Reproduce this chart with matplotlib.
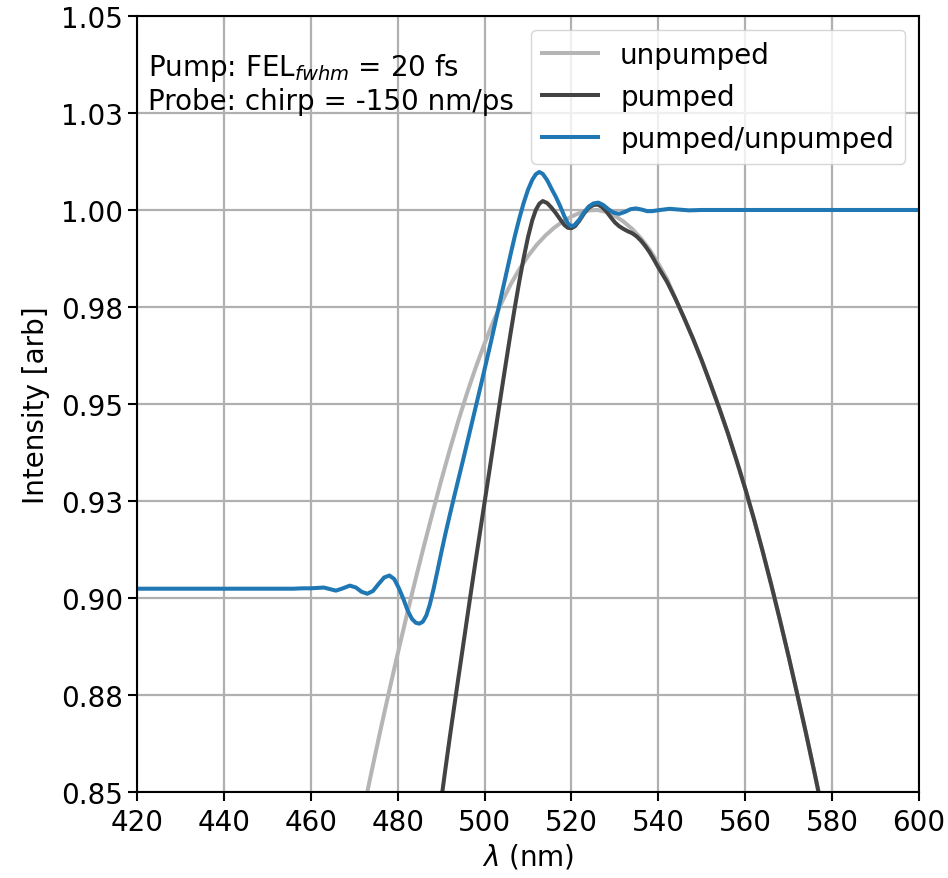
import matplotlib
matplotlib.use("Agg")
import matplotlib.pyplot as plt

# Unpumped probe spectrum
unpumped_wl = [466, 468, 470, 472, 474, 476, 478, 480, 482, 484, 486, 488, 490,
               492, 494, 496, 498, 500, 502, 504, 506, 508, 510, 512, 514, 516,
               518, 520, 522, 524, 526, 528, 530, 532, 534, 536, 538, 540, 542,
               544, 546, 548, 550, 552, 554, 556, 558, 560, 562, 564, 566, 568,
               570, 572, 574, 576, 578, 580, 582]
unpumped = [0.8107, 0.8223, 0.8336, 0.8446, 0.8553, 0.8657, 0.8758, 0.8856, 0.8951,
            0.9043, 0.9132, 0.9218, 0.9302, 0.9382, 0.9458, 0.9529, 0.9595, 0.9656,
            0.9712, 0.9763, 0.9808, 0.9847, 0.9881, 0.9910, 0.9934, 0.9954, 0.9970,
            0.9983, 0.9993, 0.9999, 1.0000, 0.9995, 0.9985, 0.9970, 0.9951, 0.9927,
            0.9898, 0.9862, 0.9822, 0.9770, 0.9720, 0.9668, 0.9612, 0.9552, 0.9490,
            0.9425, 0.9355, 0.9282, 0.9204, 0.9121, 0.9034, 0.8943, 0.8849, 0.8751,
            0.8651, 0.8547, 0.8440, 0.8331, 0.8220]

# Pumped probe spectrum
pumped_wl = [488, 489, 490, 491, 492, 493, 494, 495, 496, 497, 498, 499, 500,
             501, 502, 503, 504, 505, 506, 507, 508, 509, 510, 511, 511.8, 512.6,
             513.4, 514.4, 515.4, 516.4, 517.4, 518.4, 519.2, 520.0, 520.8, 521.8,
             522.9, 524.0, 525.1, 526.1, 527.0, 528.0, 529.0, 530.0, 531.0, 532.0,
             533.0, 534.0, 535.0, 536.0, 537.0, 538.0, 539.0, 540.0, 542, 544, 546,
             548, 550, 552, 554, 556, 558, 560, 562, 564, 566, 568, 570, 572, 574,
             576, 578, 580, 582]
pumped = [0.8306, 0.8390, 0.8477, 0.8560, 0.8641, 0.8719, 0.8796, 0.8872, 0.8949,
          0.9025, 0.9100, 0.9173, 0.9246, 0.9319, 0.9393, 0.9467, 0.9540, 0.9612,
          0.9683, 0.9751, 0.9816, 0.9876, 0.9930, 0.9974, 1.0000, 1.0016, 1.0023,
          1.0018, 1.0006, 0.9992, 0.9976, 0.9961, 0.9954, 0.9953, 0.9958, 0.9972,
          0.9991, 1.0006, 1.0013, 1.0014, 1.0008, 0.9997, 0.9982, 0.9968, 0.9958,
          0.9951, 0.9945, 0.9940, 0.9932, 0.9921, 0.9907, 0.9891, 0.9872, 0.9852,
          0.9815, 0.9770, 0.9720, 0.9668, 0.9612, 0.9552, 0.9490, 0.9425, 0.9355,
          0.9282, 0.9204, 0.9121, 0.9034, 0.8943, 0.8849, 0.8751, 0.8651, 0.8547,
          0.8440, 0.8331, 0.8220]

# Ratio pumped / unpumped
ratio_wl = [420, 450, 456, 458, 460, 461.5, 463, 464.4, 465.8, 467.4, 469.0,
            470.4, 471.7, 473.0, 474.3, 475.6, 476.9, 478.1, 479.2, 480.3, 481.3,
            482.3, 483.3, 484.2, 485.0, 485.8, 486.6, 487.4, 488.3, 489.2, 490.1,
            491, 492, 493, 494, 495, 496, 497, 498, 499, 500, 501, 502, 503, 504,
            505, 506, 507, 508, 509, 510, 511, 511.8, 512.6, 513.4, 514.4, 515.4,
            516.4, 517.4, 518.4, 519.2, 519.9, 520.7, 521.8, 522.9, 524.0, 525.1,
            526.2, 527.3, 528.5, 529.7, 531.0, 532.3, 533.6, 534.8, 536.2, 537.4,
            538.6, 540.4, 542.6, 544.8, 547.0, 550, 600]
ratio = [0.9024, 0.9024, 0.9024, 0.9025, 0.9025, 0.9026, 0.9027, 0.9023, 0.9019,
         0.9025, 0.9032, 0.9027, 0.9016, 0.9011, 0.9018, 0.9036, 0.9053, 0.9058,
         0.9049, 0.9025, 0.8998, 0.8968, 0.8946, 0.8936, 0.8934, 0.8939, 0.8955,
         0.8983, 0.9025, 0.9072, 0.9120, 0.9166, 0.9214, 0.9261, 0.9307, 0.9353,
         0.9400, 0.9447, 0.9494, 0.9541, 0.9589, 0.9637, 0.9686, 0.9736, 0.9786,
         0.9836, 0.9886, 0.9934, 0.9978, 1.0018, 1.0052, 1.0078, 1.0092, 1.0098,
         1.0093, 1.0077, 1.0055, 1.0034, 1.0010, 0.9983, 0.9965, 0.9958, 0.9961,
         0.9975, 0.9994, 1.0009, 1.0017, 1.0019, 1.0013, 1.0002, 0.9993, 0.9990,
         0.9995, 1.0002, 1.0004, 1.0001, 0.9997, 0.9997, 1.0000, 1.0003, 1.0001,
         0.9999, 1.0000, 1.0000]

x_ticks = [420, 440, 460, 480, 500, 520, 540, 560, 580, 600]
y_ticks = [0.85, 0.875, 0.90, 0.925, 0.95, 0.975, 1.00, 1.025, 1.05]
y_tick_labels = ["0.85", "0.88", "0.90", "0.93", "0.95", "0.98", "1.00", "1.03", "1.05"]

plt.rcParams["font.family"] = ["DejaVu Sans"]
plt.rcParams["font.size"] = 20
plt.rcParams["mathtext.fontset"] = "dejavusans"

fig = plt.figure(figsize=(9.48, 8.79), dpi=100)
ax = fig.add_axes([0.1445, 0.0978, 0.8249, 0.8829])

lw = 2.9
ax.plot(unpumped_wl, unpumped, color="#b5b5b5", lw=lw, label="unpumped")
ax.plot(pumped_wl, pumped, color="#434343", lw=lw, label="pumped")
ax.plot(ratio_wl, ratio, color="#1f77b4", lw=lw, label="pumped/unpumped")

ax.set_xlim(420, 600)
ax.set_ylim(0.85, 1.05)
ax.set_xticks(x_ticks)
ax.set_yticks(y_ticks)
ax.set_yticklabels(y_tick_labels)
ax.grid(True, color="#b0b0b0", lw=1.6)
ax.set_axisbelow(True)
ax.tick_params(labelsize=20, length=6.5, width=1.5)
ax.tick_params(axis="x", pad=5)
for s in ax.spines.values():
    s.set_linewidth(1.5)

ax.set_xlabel(r"$\lambda$ (nm)", fontsize=20, labelpad=4)
ax.set_ylabel("Intensity [arb]", fontsize=20, labelpad=8)

ax.text(0.014, 0.955, "Pump: FEL$_{fwhm}$ = 20 fs\nProbe: chirp = -150 nm/ps",
        transform=ax.transAxes, ha="left", va="top", fontsize=20, linespacing=1.2)

ax.legend(loc="upper right", fontsize=20, handlelength=2.0, borderpad=0.4,
          labelspacing=0.5, borderaxespad=0.5)

fig.savefig("out.png", dpi=100)
